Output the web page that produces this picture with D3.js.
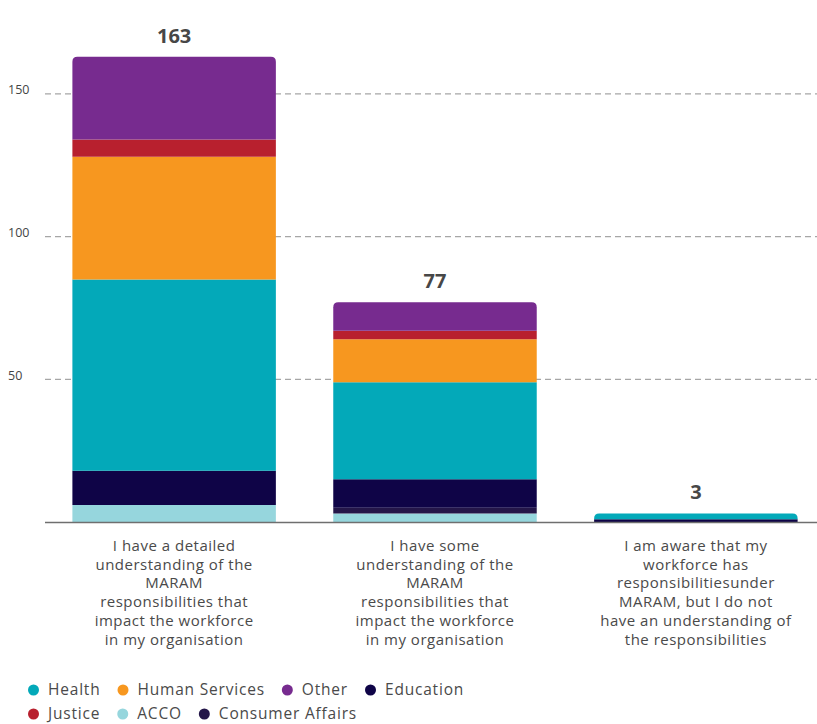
<!DOCTYPE html>
<html>
<head>
<meta charset="utf-8">
<script src="https://cdn.jsdelivr.net/npm/d3@7"></script>
<style>
  html, body { margin: 0; padding: 0; background: #fff; }
  svg { display: block; font-family: "Open Sans", "DejaVu Sans", sans-serif; }
</style>
</head>
<body>
<svg id="chart" width="817" height="724"></svg>
<script>
// Understanding of MARAM responsibilities, by sector
const categories = [
  "I have a detailed\nunderstanding of the\nMARAM\nresponsibilities that\nimpact the workforce\nin my organisation",
  "I have some\nunderstanding of the\nMARAM\nresponsibilities that\nimpact the workforce\nin my organisation",
  "I am aware that my\nworkforce has\nresponsibilitiesunder\nMARAM, but I do not\nhave an understanding of\nthe responsibilities"
];
const totals = [163, 77, 3];

// Stacked from the bottom up
const sectors = ["ACCO", "Consumer Affairs", "Education", "Health", "Human Services", "Justice", "Other"];
const acco            = [6, 3, 0];
const consumerAffairs = [0, 2, 0];
const education       = [12, 10, 1];
const health          = [67, 34, 2];
const humanServices   = [43, 15, 0];
const justice         = [6, 3, 0];
const other           = [29, 10, 0];

const yTicks = [50, 100, 150];
const legendOrder = ["Health", "Human Services", "Other", "Education", "Justice", "ACCO", "Consumer Affairs"];

const colors = {
  "Health": "#03a9b9",
  "Human Services": "#f7971f",
  "Other": "#772b8f",
  "Education": "#0f0447",
  "Justice": "#b8202e",
  "ACCO": "#96d6dd",
  "Consumer Affairs": "#241649"
};

const seriesValues = {
  "ACCO": acco,
  "Consumer Affairs": consumerAffairs,
  "Education": education,
  "Health": health,
  "Human Services": humanServices,
  "Justice": justice,
  "Other": other
};

const rows = categories.map((c, i) => {
  const r = { category: c };
  sectors.forEach(s => r[s] = seriesValues[s][i]);
  return r;
});

const svg = d3.select("#chart");

const x = d3.scaleBand()
  .domain(categories)
  .range([45, 825])
  .paddingInner(0.22)
  .paddingOuter(0.105);

const y = d3.scaleLinear()
  .domain([0, 180])
  .range([522, 8.3]);

// Gridlines with tick labels
const grid = svg.append("g");
grid.selectAll("line")
  .data(yTicks)
  .join("line")
  .attr("x1", 45).attr("x2", 817)
  .attr("y1", d => y(d)).attr("y2", d => y(d))
  .attr("stroke", "#a6a6a6")
  .attr("stroke-width", 1.3)
  .attr("stroke-dasharray", "6,4");
grid.selectAll("text")
  .data(yTicks)
  .join("text")
  .attr("x", 8)
  .attr("y", d => y(d) + 0.5)
  .attr("fill", "#444")
  .attr("font-size", 12.5)
  .text(d => d);

// Stacked bars
const stack = d3.stack().keys(sectors)(rows);
const radius = 5;

function segPath(x0, w, yTop, yBot, roundTop) {
  if (!roundTop || yBot - yTop < 0.01) {
    return `M${x0},${yBot}V${yTop}H${x0 + w}V${yBot}Z`;
  }
  const r = Math.min(radius, (yBot - yTop));
  return `M${x0},${yBot}V${yTop + r}Q${x0},${yTop} ${x0 + r},${yTop}` +
         `H${x0 + w - r}Q${x0 + w},${yTop} ${x0 + w},${yTop + r}V${yBot}Z`;
}

// top-most non-empty segment per category gets the rounded corners
const topKey = categories.map((c, i) => {
  let k = null;
  stack.forEach(layer => { if (layer[i][1] > layer[i][0]) k = layer.key; });
  return k;
});

const bars = svg.append("g");
stack.forEach(layer => {
  bars.selectAll(null)
    .data(layer.map((d, i) => ({ d, i })))
    .join("path")
    .filter(o => o.d[1] > o.d[0])
    .attr("fill", colors[layer.key])
    .attr("d", o => segPath(
      x(categories[o.i]), x.bandwidth(),
      y(o.d[1]), y(o.d[0]),
      topKey[o.i] === layer.key));
});

// Baseline
svg.append("line")
  .attr("x1", 45).attr("x2", 817)
  .attr("y1", 522.5).attr("y2", 522.5)
  .attr("stroke", "#6f6f6f")
  .attr("stroke-width", 1.6);

// Totals above bars
svg.append("g").selectAll("text")
  .data(categories)
  .join("text")
  .attr("x", c => x(c) + x.bandwidth() / 2)
  .attr("y", (c, i) => y(totals[i]) - 14)
  .attr("text-anchor", "middle")
  .attr("font-size", 20)
  .attr("font-weight", 700)
  .attr("fill", "#474747")
  .text((c, i) => totals[i]);

// Category labels
const cat = svg.append("g").selectAll("text")
  .data(categories)
  .join("text")
  .attr("text-anchor", "middle")
  .attr("font-size", 15)
  .attr("letter-spacing", 0.5)
  .attr("fill", "#4a4a4a");
cat.each(function (c) {
  d3.select(this).selectAll("tspan")
    .data(c.split("\n"))
    .join("tspan")
    .attr("x", x(c) + x.bandwidth() / 2)
    .attr("y", (l, j) => 551 + j * 18.7)
    .text(l => l);
});

// Legend
const legend = svg.append("g")
  .attr("font-size", 15.5)
  .attr("letter-spacing", 0.8)
  .attr("fill", "#4a4a4a");
let lx = 28, ly = 690;
legendOrder.forEach((name, i) => {
  const g = legend.append("g");
  const t = g.append("text").attr("y", 5.3).attr("x", 20).text(name);
  const w = t.node().getComputedTextLength();
  if (i === 4) { lx = 28; ly = 714; }
  g.attr("transform", `translate(${lx},${ly})`);
  g.append("circle").attr("cx", 5.5).attr("cy", 0).attr("r", 5.5).attr("fill", colors[name]);
  lx += 20 + w + 17;
});
</script>
</body>
</html>
